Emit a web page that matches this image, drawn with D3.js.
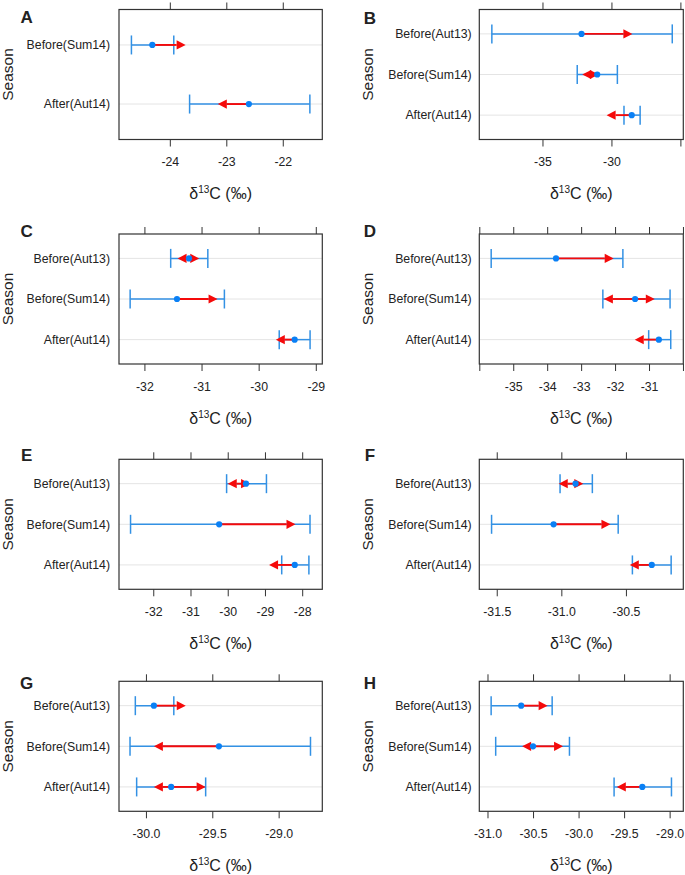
<!DOCTYPE html>
<html>
<head>
<meta charset="utf-8">
<script src="https://cdn.jsdelivr.net/npm/d3@7"></script>
<style>
  body { margin: 0; background: #fff; }
  svg text { font-family: "Liberation Sans", Arial, sans-serif; fill: #222; }
</style>
</head>
<body>
<div id="chart"></div>
<script>
// Season levels (top to bottom)
const SEASONS_3 = ["Before(Aut13)", "Before(Sum14)", "After(Aut14)"];
const SEASONS_2 = ["Before(Sum14)", "After(Aut14)"];

// Panel A
const A_low = [-24.68, -23.65];
const A_mean = [-24.31, -22.60];
const A_high = [-23.93, -21.52];
const A_tips = [[-23.72], [-23.15]];
const A_domain = [-24.90, -21.30];
const A_ticks = [-24, -23, -22];
const A_labels = ["-24", "-23", "-22"];

// Panel B
const B_low = [-38.67, -32.48, -29.09];
const B_mean = [-32.17, -31.03, -28.53];
const B_high = [-25.59, -29.57, -27.92];
const B_tips = [[-28.48], [-32.12, -30.91], [-30.35]];
const B_domain = [-39.58, -24.79];
const B_ticks = [-35, -30, -25];
const B_labels = ["-35", "-30", ""];

// Panel C
const C_low = [-31.54, -32.25, -29.64];
const C_mean = [-31.22, -31.43, -29.37];
const C_high = [-30.89, -30.60, -29.10];
const C_tips = [[-31.42, -31.04], [-30.72], [-29.70]];
const C_domain = [-32.445, -28.886];
const C_ticks = [-32, -31, -30, -29];
const C_labels = ["-32", "-31", "-30", "-29"];

// Panel D
const D_low = [-35.65, -32.36, -31.01];
const D_mean = [-33.74, -31.41, -30.71];
const D_high = [-31.77, -30.38, -30.36];
const D_tips = [[-32.04], [-32.33, -30.83], [-31.42]];
const D_domain = [-36.0, -29.99];
const D_ticks = [-36, -35, -34, -33, -32, -31, -30];
const D_labels = ["", "-35", "-34", "-33", "-32", "-31", ""];

// Panel E
const E_low = [-30.03, -32.61, -28.55];
const E_mean = [-29.51, -30.23, -28.20];
const E_high = [-28.96, -27.79, -27.82];
const E_tips = [[-30.00, -29.40], [-28.18], [-28.89]];
const E_domain = [-32.92, -27.46];
const E_ticks = [-32, -31, -30, -29, -28];
const E_labels = ["-32", "-31", "-30", "-29", "-28"];

// Panel F
const F_low = [-31.01, -31.54, -30.45];
const F_mean = [-30.89, -31.06, -30.30];
const F_high = [-30.76, -30.56, -30.15];
const F_tips = [[-31.02, -30.83], [-30.62], [-30.47]];
const F_domain = [-31.635, -30.056];
const F_ticks = [-31.5, -31.0, -30.5];
const F_labels = ["-31.5", "-31.0", "-30.5"];

// Panel G
const G_low = [-30.08, -30.12, -30.07];
const G_mean = [-29.94, -29.45, -29.81];
const G_high = [-29.79, -28.76, -29.55];
const G_tips = [[-29.70], [-29.94], [-29.94, -29.55]];
const G_domain = [-30.203, -28.671];
const G_ticks = [-30.0, -29.5, -29.0];
const G_labels = ["-30.0", "-29.5", "-29.0"];

// Panel H
const H_low = [-30.96, -30.91, -29.61];
const H_mean = [-30.63, -30.50, -29.30];
const H_high = [-30.29, -30.10, -28.98];
const H_tips = [[-30.34], [-30.62, -30.17], [-29.58]];
const H_domain = [-31.09, -28.85];
const H_ticks = [-31.0, -30.5, -30.0, -29.5, -29.0];
const H_labels = ["-31.0", "-30.5", "-30.0", "-29.5", "-29.0"];

const panels = [
  { letter: "A", seasons: SEASONS_2, low: A_low, mean: A_mean, high: A_high, tips: A_tips, domain: A_domain, ticks: A_ticks, labels: A_labels },
  { letter: "B", seasons: SEASONS_3, low: B_low, mean: B_mean, high: B_high, tips: B_tips, domain: B_domain, ticks: B_ticks, labels: B_labels },
  { letter: "C", seasons: SEASONS_3, low: C_low, mean: C_mean, high: C_high, tips: C_tips, domain: C_domain, ticks: C_ticks, labels: C_labels },
  { letter: "D", seasons: SEASONS_3, low: D_low, mean: D_mean, high: D_high, tips: D_tips, domain: D_domain, ticks: D_ticks, labels: D_labels },
  { letter: "E", seasons: SEASONS_3, low: E_low, mean: E_mean, high: E_high, tips: E_tips, domain: E_domain, ticks: E_ticks, labels: E_labels },
  { letter: "F", seasons: SEASONS_3, low: F_low, mean: F_mean, high: F_high, tips: F_tips, domain: F_domain, ticks: F_ticks, labels: F_labels },
  { letter: "G", seasons: SEASONS_3, low: G_low, mean: G_mean, high: G_high, tips: G_tips, domain: G_domain, ticks: G_ticks, labels: G_labels },
  { letter: "H", seasons: SEASONS_3, low: H_low, mean: H_mean, high: H_high, tips: H_tips, domain: H_domain, ticks: H_ticks, labels: H_labels }
];

// Layout of the 2 x 4 grid
const COL_X = [[119, 322.3], [479.3, 683.3]];
const ROW_TOP = [9.5, 234, 459.3, 681.3];
const BOX_H = 130;
const LETTER_Y = [[16.7, 18.3], [230.7, 230.7], [455, 455], [683.3, 683.3]];
const LETTER_X = [26.7, 370];
const SEASON_X = [7.3, 367.3];

const BLUE_LINE = "#3391e4",
  BLUE_DOT = "#0a80f5",
  RED = "#f50a0a",
  HEAD_LEN = 9,
  HEAD_HALF = 4.6,
  CAP_HALF = 9.5;

const svg = d3.select("#chart")
  .append("svg")
    .attr("width", 685)
    .attr("height", 875);

panels.forEach((p, i) => drawPanel(svg, p, i % 2, Math.floor(i / 2)));

function drawPanel(svg, p, col, row) {
  const [x0, x1] = COL_X[col];
  const top = ROW_TOP[row],
    bottom = top + BOX_H;

  const x = d3.scaleLinear().domain(p.domain).range([x0, x1]);
  const y = d3.scalePoint().domain(p.seasons).range([top, bottom]).padding(0.6);

  const g = svg.append("g");

  // grid lines for every season
  g.selectAll(".grid")
    .data(p.seasons)
    .join("line")
      .attr("x1", x0).attr("x2", x1)
      .attr("y1", d => y(d)).attr("y2", d => y(d))
      .attr("stroke", "#e4e4e4")
      .attr("stroke-width", 1);

  // confidence bars
  p.seasons.forEach((s, k) => {
    const yy = y(s);
    g.append("line")
      .attr("x1", x(p.low[k])).attr("x2", x(p.high[k]))
      .attr("y1", yy).attr("y2", yy)
      .attr("stroke", BLUE_LINE)
      .attr("stroke-width", 1.5);
    [p.low[k], p.high[k]].forEach(v => {
      g.append("line")
        .attr("x1", x(v)).attr("x2", x(v))
        .attr("y1", yy - CAP_HALF).attr("y2", yy + CAP_HALF)
        .attr("stroke", BLUE_LINE)
        .attr("stroke-width", 1.5);
    });
  });

  // red arrows from the mean
  p.seasons.forEach((s, k) => {
    const yy = y(s);
    p.tips[k].forEach(t => {
      const dir = t > p.mean[k] ? 1 : -1;
      const xt = x(t),
        xb = xt - dir * HEAD_LEN;
      g.append("line")
        .attr("x1", x(p.mean[k])).attr("x2", xb)
        .attr("y1", yy).attr("y2", yy)
        .attr("stroke", RED)
        .attr("stroke-width", 1.9);
      g.append("path")
        .attr("d", `M${xt},${yy}L${xb},${yy - HEAD_HALF}L${xb},${yy + HEAD_HALF}Z`)
        .attr("fill", RED);
    });
  });

  // means
  g.selectAll(".dot")
    .data(p.seasons)
    .join("circle")
      .attr("cx", (d, k) => x(p.mean[k]))
      .attr("cy", d => y(d))
      .attr("r", 3.1)
      .attr("fill", BLUE_DOT);

  // axes: labelled bottom, bare ticks on top
  const bottomAxis = g.append("g")
    .attr("transform", "translate(0," + bottom + ")")
    .call(d3.axisBottom(x)
      .tickValues(p.ticks)
      .tickFormat((d, k) => p.labels[k])
      .tickSize(7)
      .tickPadding(11));
  bottomAxis.select(".domain").remove();
  bottomAxis.selectAll("text").style("font-size", "12.3px").attr("fill", "#222");
  bottomAxis.selectAll("line").attr("stroke", "#333");

  const topAxis = g.append("g")
    .attr("transform", "translate(0," + top + ")")
    .call(d3.axisTop(x)
      .tickValues(p.ticks)
      .tickFormat("")
      .tickSize(7));
  topAxis.select(".domain").remove();
  topAxis.selectAll("line").attr("stroke", "#333");

  // frame
  g.append("rect")
    .attr("x", x0).attr("y", top)
    .attr("width", x1 - x0).attr("height", BOX_H)
    .attr("fill", "none")
    .attr("stroke", "#333")
    .attr("stroke-width", 1.2);

  // season labels
  g.selectAll(".season")
    .data(p.seasons)
    .join("text")
      .attr("x", x0 - (col === 0 ? 9 : 7.6))
      .attr("y", d => y(d))
      .attr("dy", "0.35em")
      .attr("text-anchor", "end")
      .style("font-size", "12.3px")
      .text(d => d);

  // y axis title
  g.append("text")
    .attr("transform", "translate(" + SEASON_X[col] + "," + (top + BOX_H / 2) + ") rotate(-90)")
    .attr("dy", "0.35em")
    .attr("text-anchor", "middle")
    .style("font-size", "15.5px")
    .text("Season");

  // x axis title: delta 13C (permil)
  const title = g.append("text")
    .attr("x", (x0 + x1) / 2)
    .attr("y", bottom + 59.5)
    .attr("text-anchor", "middle")
    .style("font-size", "16px");
  title.append("tspan").text("δ");
  title.append("tspan").attr("dy", -6).style("font-size", "10px").text("13");
  title.append("tspan").attr("dy", 6).text("C (‰)");

  // panel letter
  g.append("text")
    .attr("x", LETTER_X[col])
    .attr("y", LETTER_Y[row][col])
    .attr("dy", "0.35em")
    .attr("text-anchor", "middle")
    .style("font-size", "17px")
    .style("font-weight", "bold")
    .attr("fill", "#000")
    .text(p.letter);
}
</script>
</body>
</html>
